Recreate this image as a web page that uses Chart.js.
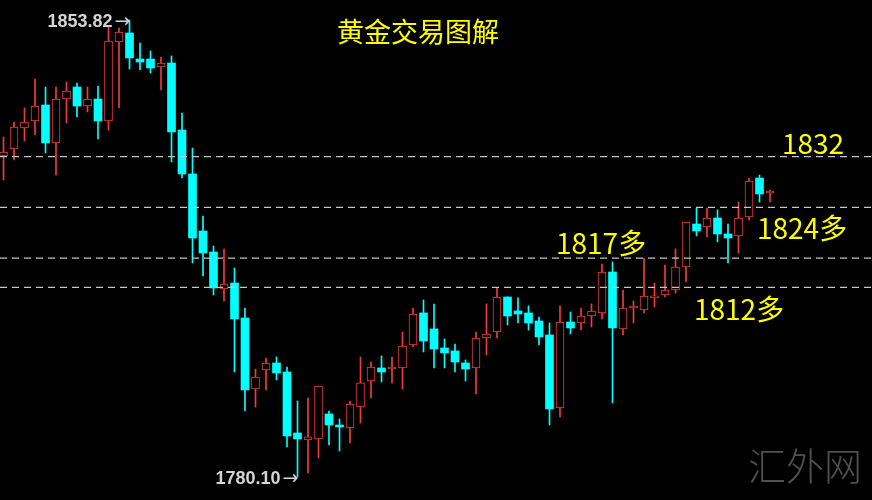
<!DOCTYPE html>
<html>
<head>
<meta charset="utf-8">
<script src="https://cdn.jsdelivr.net/npm/chart.js@4.4.0/dist/chart.umd.min.js"></script>
<style>
    html, body { margin: 0; padding: 0; background: #000; }
    #wrap { position: relative; width: 872px; height: 500px; overflow: hidden; background: #000; }
    #wrap canvas { position: absolute; left: 0; top: 0; }
    .txt { position: absolute; white-space: nowrap; line-height: 1; font-family: "Noto Sans CJK SC", "Noto Sans", sans-serif; color: #ffff00; }
    #title { left: 337px; top: 17px; font-size: 27px; }
    .lvl { font-size: 28px; }
    #wm { left: 748px; top: 445px; font-size: 38px; color: #505050; font-weight: 300; }
    .mark { font-family: "Liberation Sans", "DejaVu Sans", sans-serif; font-weight: bold; font-size: 18px; color: #d4d4d4; }
    .mark .arr { font-family: "DejaVu Sans", sans-serif; font-weight: normal; font-size: 19px; margin-left: 2px; }
</style>
</head>
<body>
<div id="wrap">
    <canvas id="kline" width="872" height="500"></canvas>
    <div id="title" class="txt">黄金交易图解</div>
    <div id="lbl0" class="txt lvl" style="left:782px; top:128px;"></div>
    <div id="lbl1" class="txt lvl" style="left:757px; top:213px;"></div>
    <div id="lbl2" class="txt lvl" style="left:556px; top:228px;"></div>
    <div id="lbl3" class="txt lvl" style="left:694px; top:294px;"></div>
    <div id="wm" class="txt">汇外网</div>
    <div id="maxMark" class="txt mark"><span class="num"></span><span class="arr">→</span></div>
    <div id="minMark" class="txt mark"><span class="num"></span><span class="arr">→</span></div>
</div>
<script>
// candle values, left to right
const opens = [1831.89, 1833.02, 1836.40, 1837.53, 1840.11, 1833.99, 1841.08, 1843.02, 1839.95, 1841.08,
    1837.53, 1850.28, 1851.73, 1847.53, 1847.53, 1846.24, 1846.89, 1836.08, 1828.99, 1819.79,
    1816.40, 1810.44, 1811.40, 1805.76, 1794.31, 1797.37, 1798.50, 1797.05, 1787.21, 1786.08,
    1786.24, 1790.28, 1788.50, 1788.02, 1791.40, 1795.60, 1797.70, 1797.53, 1797.70, 1801.40,
    1806.57, 1803.99, 1800.92, 1800.44, 1798.50, 1797.70, 1802.53, 1803.50, 1809.15, 1806.89,
    1806.57, 1805.28, 1803.02, 1791.24, 1805.11, 1804.95, 1806.08, 1806.57, 1813.18, 1803.99,
    1807.37, 1807.05, 1808.99, 1809.47, 1810.28, 1813.99, 1820.92, 1820.44, 1821.89, 1819.31,
    1818.99, 1822.05, 1828.34, 1825.92];
const closes = [1832.53, 1836.57, 1837.37, 1839.95, 1833.99, 1841.08, 1842.37, 1839.95, 1841.08, 1837.53,
    1850.44, 1851.89, 1847.70, 1847.05, 1846.08, 1846.89, 1835.76, 1828.99, 1818.66, 1816.24,
    1810.60, 1811.24, 1805.60, 1794.15, 1796.24, 1798.50, 1796.89, 1786.73, 1786.24, 1786.57,
    1794.79, 1788.50, 1788.18, 1791.89, 1795.28, 1797.86, 1797.05, 1797.70, 1801.24, 1806.40,
    1802.05, 1800.76, 1800.11, 1798.66, 1797.53, 1802.53, 1803.18, 1809.15, 1806.08, 1806.40,
    1804.95, 1802.70, 1791.08, 1805.11, 1804.15, 1806.08, 1806.89, 1813.18, 1804.15, 1807.37,
    1807.53, 1809.31, 1809.31, 1810.28, 1813.99, 1821.24, 1819.79, 1821.89, 1819.31, 1818.66,
    1821.89, 1827.86, 1825.76, 1826.08];
const highs = [1834.95, 1837.37, 1839.63, 1844.31, 1843.02, 1843.02, 1843.82, 1843.66, 1843.02, 1843.18,
    1852.86, 1852.53, 1853.82, 1850.11, 1848.82, 1847.86, 1848.02, 1838.82, 1833.18, 1822.21,
    1817.37, 1816.89, 1813.82, 1807.37, 1797.53, 1799.31, 1799.47, 1797.86, 1792.37, 1792.86,
    1794.79, 1790.76, 1789.47, 1792.37, 1799.47, 1798.66, 1799.63, 1799.47, 1803.50, 1807.37,
    1808.66, 1808.02, 1802.37, 1801.57, 1798.99, 1803.50, 1808.02, 1810.60, 1809.15, 1808.99,
    1807.70, 1805.92, 1804.95, 1807.70, 1806.73, 1807.37, 1808.02, 1814.47, 1814.79, 1810.28,
    1808.50, 1815.44, 1811.40, 1814.31, 1816.89, 1821.24, 1823.50, 1823.50, 1823.18, 1820.92,
    1824.47, 1828.34, 1828.82, 1826.40];
const lows = [1828.02, 1831.24, 1834.31, 1835.28, 1832.37, 1828.82, 1837.21, 1838.18, 1838.99, 1834.63,
    1836.08, 1839.63, 1845.92, 1845.76, 1845.28, 1842.53, 1830.92, 1828.34, 1814.63, 1812.53,
    1809.47, 1808.50, 1797.05, 1790.76, 1791.40, 1794.15, 1795.76, 1784.95, 1780.10, 1780.76,
    1783.18, 1785.28, 1784.31, 1785.60, 1788.82, 1792.86, 1795.44, 1795.28, 1794.31, 1801.08,
    1800.28, 1797.70, 1797.70, 1797.05, 1795.60, 1793.50, 1799.79, 1802.53, 1804.63, 1804.95,
    1803.82, 1801.40, 1788.50, 1789.79, 1803.18, 1803.82, 1804.31, 1805.60, 1792.05, 1803.02,
    1804.95, 1806.57, 1807.53, 1809.15, 1809.79, 1811.57, 1818.99, 1818.82, 1818.02, 1814.63,
    1816.24, 1821.57, 1824.47, 1824.47];

// horizontal levels (dashed) and their captions
const levels = [1831.8, 1823.6, 1815.4, 1810.7];
const levelLabels = ['1832', '1824多', '1817多', '1812多'];

const RED = '#f03c3c';
const CYAN = '#00ffff';
const X_MIN = -0.3333, X_MAX = 82.714;

const idx = opens.map((_, i) => i);
const up = idx.filter(i => closes[i] >= opens[i]);
const down = idx.filter(i => closes[i] < opens[i]);

function bodies(list) {
    return list.map(i => ({ x: i, y: [opens[i], closes[i]] }));
}
function wicks(list) {
    return list.map(i => ({ x: i, y: [lows[i], highs[i]] }));
}

const levelSets = levels.map(v => ({
    type: 'line',
    data: [{ x: X_MIN, y: v }, { x: X_MAX, y: v }],
    borderColor: '#c4c4c4',
    borderWidth: 1.2,
    borderDash: [7, 5],
    pointRadius: 0,
    order: 0
}));

const chart = new Chart(document.getElementById('kline').getContext('2d'), {
    type: 'bar',
    data: {
        datasets: [
            { data: bodies(up), backgroundColor: '#000', borderColor: RED, borderWidth: 1, borderSkipped: false,
              barThickness: 8, minBarLength: 2, grouped: false, order: 1 },
            { data: bodies(down), backgroundColor: CYAN, borderColor: CYAN, borderWidth: 0,
              barThickness: 8, minBarLength: 2, grouped: false, order: 1 },
            { data: wicks(up), backgroundColor: RED, borderWidth: 0, barThickness: 1, grouped: false, order: 2 },
            { data: wicks(down), backgroundColor: CYAN, borderWidth: 0, barThickness: 1, grouped: false, order: 2 },
            ...levelSets
        ]
    },
    options: {
        responsive: false,
        animation: false,
        devicePixelRatio: 1,
        layout: { padding: 0 },
        plugins: { legend: { display: false }, tooltip: { enabled: false } },
        scales: {
            x: { type: 'linear', min: X_MIN, max: X_MAX, offset: false, display: false },
            y: { min: 1776.40, max: 1857.05, display: false }
        }
    }
});

// captions
levelLabels.forEach((t, i) => { document.getElementById('lbl' + i).textContent = t; });

// highest / lowest price markers
const hi = Math.max(...highs), lo = Math.min(...lows);
const iHi = highs.indexOf(hi), iLo = lows.indexOf(lo);
const sx = chart.scales.x, sy = chart.scales.y;

function placeMark(id, value, index) {
    const el = document.getElementById(id);
    el.querySelector('.num').textContent = value.toFixed(2);
    el.style.left = (sx.getPixelForValue(index) - el.offsetWidth + 1) + 'px';
    el.style.top = (sy.getPixelForValue(value) - el.offsetHeight / 2) + 'px';
}
placeMark('maxMark', hi, iHi);
placeMark('minMark', lo, iLo);
</script>
</body>
</html>
